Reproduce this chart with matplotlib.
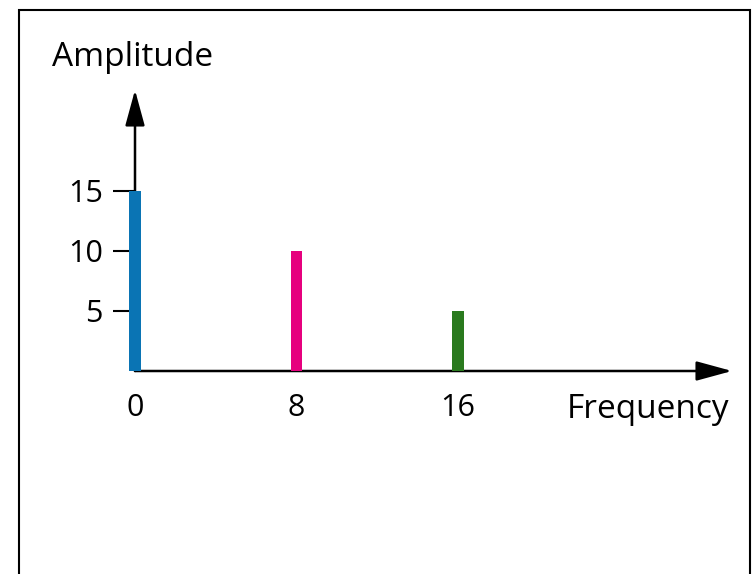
import matplotlib.pyplot as plt
from matplotlib.patches import Rectangle

frequencies = [0, 8, 16]
amplitudes = [15, 10, 5]
bar_colors = ["#0a74b4", "#e6007e", "#2a7a1e"]
y_ticks = [5, 10, 15]
x_ticks = [0, 8, 16]

plt.rcParams["font.family"] = ["Open Sans", "DejaVu Sans"]

W, H = 753, 574
fig = plt.figure(figsize=(W / 100, H / 100), dpi=100)

# frame around the picture (bottom edge falls outside the image)
fig.patches.append(Rectangle((19 / W, -0.1), (750 - 19) / W, 1.1 - 10 / H,
                             transform=fig.transFigure, fill=False,
                             edgecolor="black", linewidth=1.5))

xmax, ymax = 29.6, 23.4
ax = fig.add_axes([135 / W, (H - 371) / H, 597 / W, 281 / H])
ax.set_xlim(0, xmax)
ax.set_ylim(0, ymax)
for s in ax.spines.values():
    s.set_visible(False)

arrow = dict(arrowstyle="-|>,head_length=1.1,head_width=0.3", lw=1.8, color="black",
             shrinkA=0, shrinkB=0, mutation_scale=20)
ax.annotate("", xy=(xmax, 0), xytext=(0, 0), arrowprops=arrow, annotation_clip=False, zorder=3)
ax.annotate("", xy=(0, ymax), xytext=(0, 0), arrowprops=arrow, annotation_clip=False, zorder=3)

# bars sit on top of the axis lines
ax.bar(frequencies, amplitudes, width=0.58, color=bar_colors, clip_on=False, zorder=4)

ax.set_yticks(y_ticks)
ax.set_xticks(x_ticks)
ax.tick_params(axis="y", length=16, width=1.5, pad=7, labelsize=22)
ax.tick_params(axis="x", length=0, pad=16, labelsize=22)

fig.text(52 / W, 1 - 58 / H, "Amplitude", fontsize=24, ha="left", va="center")
fig.text(567 / W, 1 - 410 / H, "Frequency", fontsize=24, ha="left", va="center")

fig.savefig("out.png", dpi=100)
